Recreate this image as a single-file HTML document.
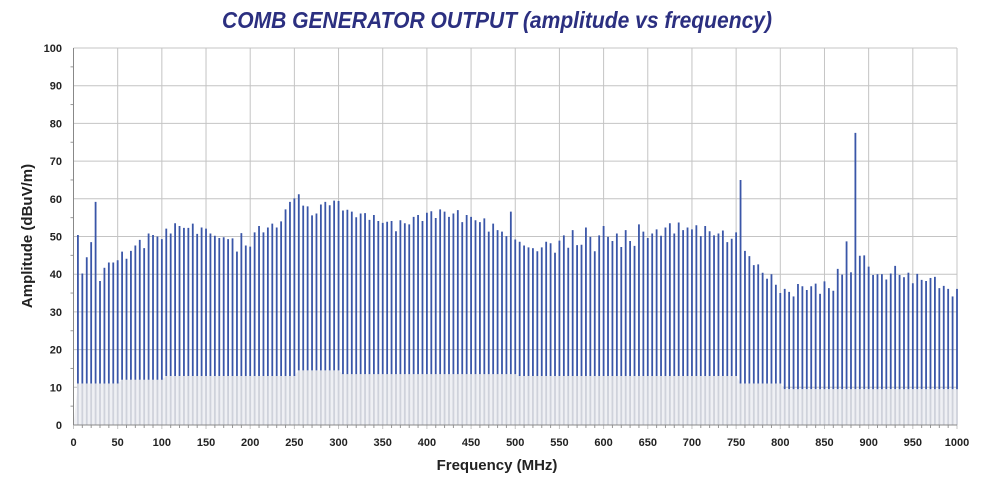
<!DOCTYPE html>
<html><head><meta charset="utf-8"><style>
body{margin:0;background:#fff;width:1000px;height:496px;overflow:hidden;font-family:"Liberation Sans",sans-serif}
</style></head><body>
<svg width="1000" height="496" viewBox="0 0 1000 496">
<text x="497" y="28" text-anchor="middle" font-size="23" font-weight="bold" font-style="italic" fill="#2b2f80" textLength="550" lengthAdjust="spacingAndGlyphs">COMB GENERATOR OUTPUT (amplitude vs frequency)</text>
<g id="grid"></g>
<g id="floor"></g>
<g id="bars"></g>
<g id="axes"></g>
<text x="497" y="470" text-anchor="middle" font-size="15" font-weight="bold" fill="#222">Frequency (MHz)</text>
<text transform="translate(32,236) rotate(-90)" text-anchor="middle" font-size="15" font-weight="bold" fill="#222">Amplitude (dBuV/m)</text>
</svg>
<script>
const startFreq = 5;
const stepFreq = 5;
const amplitudes = [
50.4,40.2,44.5,48.5,59.2,38.2,41.7,43.1,43.1,43.7,46,44.1,46.2,47.6,49.1,46.9,50.8,50.4,50,49.3,52.1,50.8,53.5,52.8,52.3,52.3,53.4,50.7,52.4,52.1,50.8,50.2,
49.6,49.8,49.3,49.5,46,50.9,47.6,47.3,51.1,52.8,51.1,52.4,53.4,52.4,54,57.2,59.2,60.1,61.2,58.2,58,55.6,56.1,58.5,59.2,58.3,59.5,59.4,56.9,57.1,56.6,55.1,56.1,
56.2,54.4,55.7,54.1,53.6,53.9,54.1,51.4,54.3,53.5,53.2,55.2,55.7,54.1,56.3,56.7,54.9,57.2,56.6,55.2,56.1,57,53.8,55.7,55.2,54.3,53.8,54.8,51.3,53.4,51.7,51.3,50.1,
56.6,49.2,48.6,47.6,47.1,46.9,46.1,47.1,48.6,48.2,45.7,48.9,50.3,47,51.7,47.7,47.8,52.4,49.9,46.1,50.3,52.8,49.9,48.8,50.8,47.2,51.7,48.8,47.5,53.2,51.3,49.6,50.8,
51.9,50.2,52.4,53.5,50.8,53.7,51.7,52.4,51.9,53,50.1,52.8,51.4,50.3,50.8,51.6,48.5,49.4,51.1,65,46.2,44.8,42.4,42.6,40.4,38.8,40,37.2,35,36.1,35.3,34.1,37.4,
36.8,35.8,36.8,37.5,34.8,38.1,36.3,35.6,41.4,39.9,48.7,40.5,77.5,44.9,45,42,39.8,40,40,38.6,40.2,42.2,39.8,39.2,40.4,37.6,40.1,38.5,38.2,39,39.3,36.3,36.9,36.1,34.1,36.1
];
// noise floor level per 50 MHz segment
const floorLevels = [11,12,13,13,13,14.5,13.5,13.5,13.5,13.5,13,13,13,13,13,11,9.5,9.5,9.5,9.5];
const xTicks = [0,50,100,150,200,250,300,350,400,450,500,550,600,650,700,750,800,850,900,950,1000];
const yTicks = [0,10,20,30,40,50,60,70,80,90,100];

const NS="http://www.w3.org/2000/svg";
const X0=73.5,XS=0.8835,Y0=425,YS=3.77;
const xs=f=>X0+f*XS, ys=v=>Y0-v*YS;
function mk(tag,attrs,parent){const e=document.createElementNS(NS,tag);for(const k in attrs)e.setAttribute(k,attrs[k]);parent.appendChild(e);return e;}
const grid=document.getElementById('grid'),bars=document.getElementById('bars'),axes=document.getElementById('axes'),flo=document.getElementById('floor');
yTicks.forEach(v=>{
  const l=mk('line',{x1:X0,x2:xs(1000),y1:ys(v),y2:ys(v),stroke:'#c4c4c4','stroke-width':1},grid);
  
  
  const t=mk('text',{x:62,y:ys(v)+4,'text-anchor':'end','font-size':11,'font-weight':'bold',fill:'#222'},axes);
  t.textContent=v;
  
  
  if(v<100){const m=mk('line',{x1:X0-3,x2:X0,y1:ys(v+5),y2:ys(v+5),stroke:'#999'},axes);
  
  }
});
xTicks.forEach(f=>{
  const l=mk('line',{x1:xs(f),x2:xs(f),y1:ys(100),y2:Y0+4,stroke:'#c4c4c4','stroke-width':1},grid);
  
  
  const t=mk('text',{x:xs(f),y:446,'text-anchor':'middle','font-size':11,'font-weight':'bold',fill:'#222'},axes);
  t.textContent=f;
  
  
});
for(let f=10;f<1000;f+=10){if(f%50){const m=mk('line',{x1:xs(f),x2:xs(f),y1:Y0,y2:Y0+3,stroke:'#999'},axes);
  
  }}
let pts=[[xs(0),Y0]];
amplitudes.forEach((v,i)=>{
  const f=startFreq+i*stepFreq;
  const fl=floorLevels[Math.min(floorLevels.length-1,Math.floor((f-1)/50))];
  pts.push([xs(f),ys(fl)]);
  const g=mk('line',{x1:xs(f),x2:xs(f),y1:Y0,y2:ys(fl),stroke:'#cfd2db','stroke-width':1.8},bars);
  
  
  const b=mk('line',{x1:xs(f),x2:xs(f),y1:ys(fl),y2:ys(v),stroke:'#3a56a8','stroke-width':1.8},bars);
  
  
});
pts.push([xs(1000),Y0]);
const p=mk('polygon',{points:pts.map(q=>q.join(',')).join(' '),fill:'#eff0f4'},flo);


const ax=mk('line',{x1:X0,x2:X0,y1:ys(100),y2:Y0,stroke:'#888'},axes);


const bx=mk('line',{x1:X0,x2:xs(1000),y1:Y0,y2:Y0,stroke:'#888'},axes);


</script>
</body></html>
